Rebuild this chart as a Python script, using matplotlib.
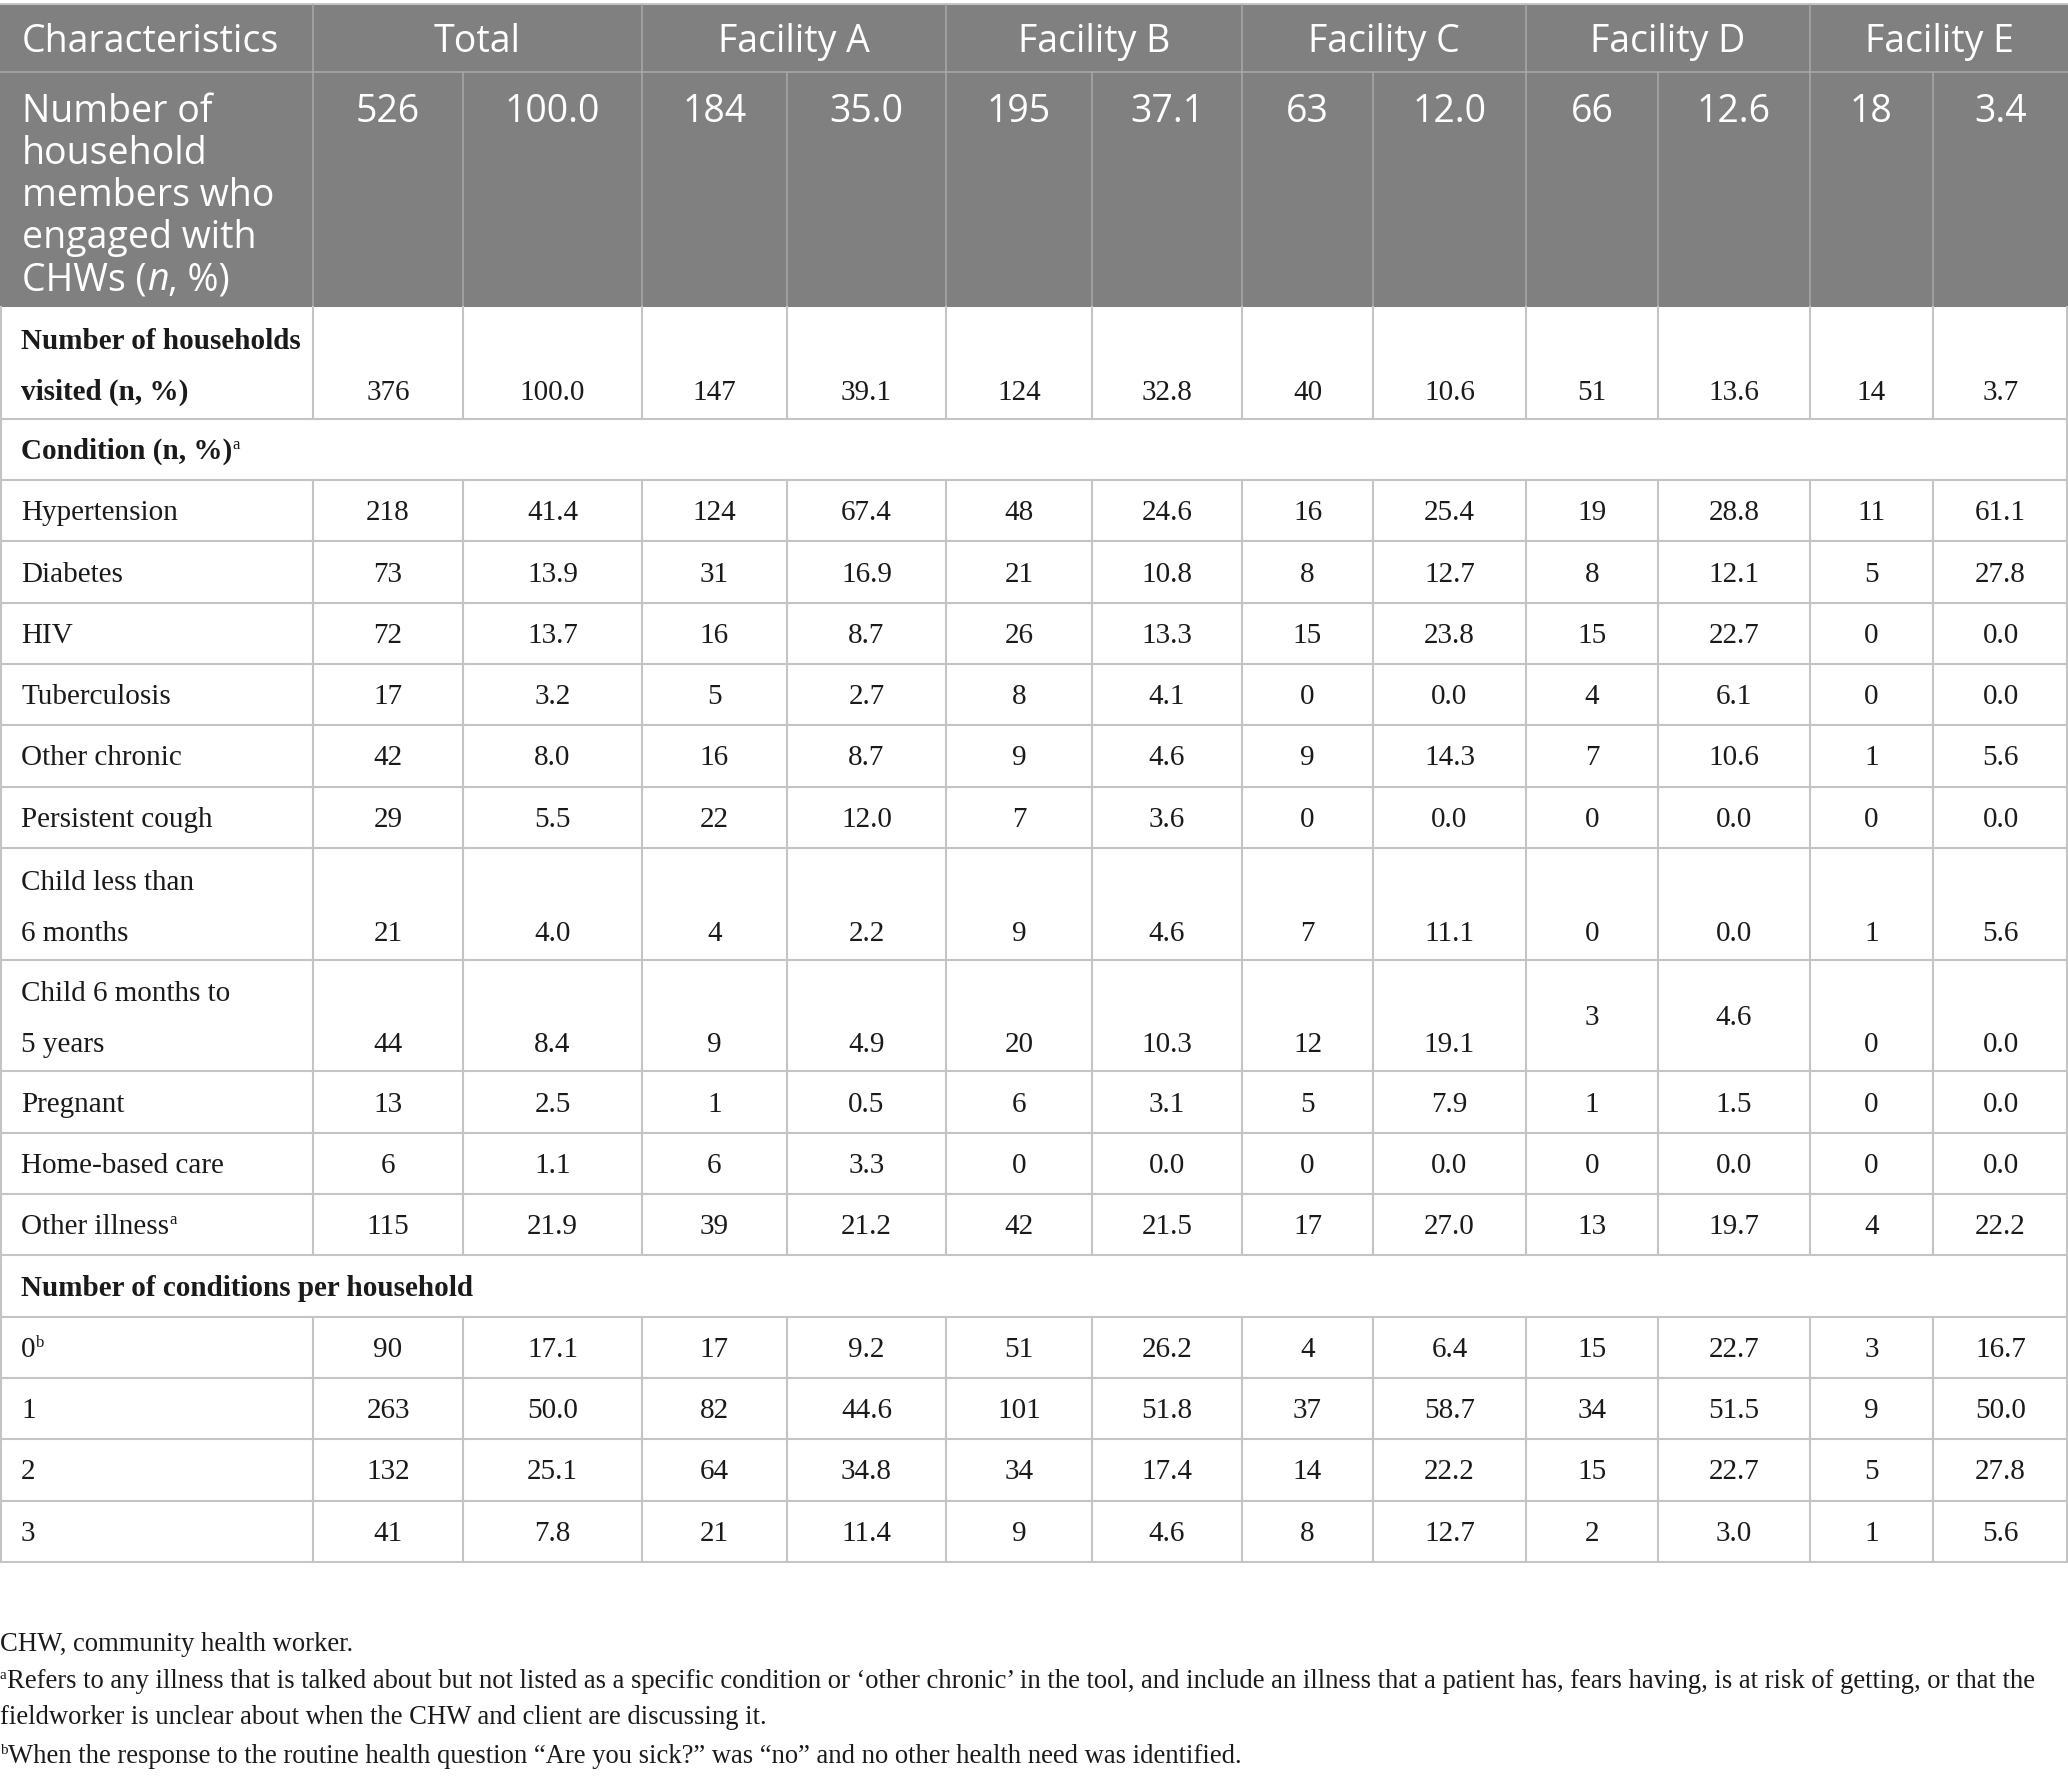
import matplotlib.pyplot as plt
from matplotlib.patches import Rectangle

# table values
facilities = ['Total', 'Facility A', 'Facility B', 'Facility C', 'Facility D', 'Facility E']
engaged_n = [526, 184, 195, 63, 66, 18]
engaged_pct = [100.0, 35.0, 37.1, 12.0, 12.6, 3.4]
visited_n = [376, 147, 124, 40, 51, 14]
visited_pct = [100.0, 39.1, 32.8, 10.6, 13.6, 3.7]

conditions = ['Hypertension', 'Diabetes', 'HIV', 'Tuberculosis', 'Other chronic',
              'Persistent cough', 'Child less than\n6 months', 'Child 6 months to\n5 years',
              'Pregnant', 'Home-based care', 'Other illness']
condition_n = [
    [218, 124, 48, 16, 19, 11],
    [73, 31, 21, 8, 8, 5],
    [72, 16, 26, 15, 15, 0],
    [17, 5, 8, 0, 4, 0],
    [42, 16, 9, 9, 7, 1],
    [29, 22, 7, 0, 0, 0],
    [21, 4, 9, 7, 0, 1],
    [44, 9, 20, 12, 3, 0],
    [13, 1, 6, 5, 1, 0],
    [6, 6, 0, 0, 0, 0],
    [115, 39, 42, 17, 13, 4],
]
condition_pct = [
    [41.4, 67.4, 24.6, 25.4, 28.8, 61.1],
    [13.9, 16.9, 10.8, 12.7, 12.1, 27.8],
    [13.7, 8.7, 13.3, 23.8, 22.7, 0.0],
    [3.2, 2.7, 4.1, 0.0, 6.1, 0.0],
    [8.0, 8.7, 4.6, 14.3, 10.6, 5.6],
    [5.5, 12.0, 3.6, 0.0, 0.0, 0.0],
    [4.0, 2.2, 4.6, 11.1, 0.0, 5.6],
    [8.4, 4.9, 10.3, 19.1, 4.6, 0.0],
    [2.5, 0.5, 3.1, 7.9, 1.5, 0.0],
    [1.1, 3.3, 0.0, 0.0, 0.0, 0.0],
    [21.9, 21.2, 21.5, 27.0, 19.7, 22.2],
]
n_conditions = ['0', '1', '2', '3']
per_household_n = [
    [90, 17, 51, 4, 15, 3],
    [263, 82, 101, 37, 34, 9],
    [132, 64, 34, 14, 15, 5],
    [41, 21, 9, 8, 2, 1],
]
per_household_pct = [
    [17.1, 9.2, 26.2, 6.4, 22.7, 16.7],
    [50.0, 44.6, 51.8, 58.7, 51.5, 50.0],
    [25.1, 34.8, 17.4, 22.2, 22.7, 27.8],
    [7.8, 11.4, 4.6, 12.7, 3.0, 5.6],
]

W, H = 2068, 1777
fig = plt.figure(figsize=(W / 100, H / 100), dpi=100)
ax = fig.add_axes([0, 0, 1, 1])
ax.set_xlim(0, W)
ax.set_ylim(H, 0)
ax.axis('off')
renderer = fig.canvas.get_renderer()

HEAD = dict(family='Open Sans', fontsize=27, weight='medium', color='white')
HEAD_IT = dict(HEAD, style='italic')
BODY = dict(family='Liberation Serif', fontsize=21, color='#1a1a1a')
BOLD = dict(BODY, weight='bold')
SUP = dict(family='Liberation Serif', fontsize=12, color='#1a1a1a')
NOTE = dict(family='Liberation Serif', fontsize=19.5, color='#1a1a1a')
NOTE_SUP = dict(family='Liberation Serif', fontsize=11, color='#1a1a1a')

GRID = '#c4c4c4'
HEAD_GRID = '#a6a6a6'
HEAD_BG = '#808080'

col_x = [0, 313, 463, 642, 787, 946, 1092, 1242, 1373, 1526, 1658, 1810, 1933, 2068]
group_x = [0, 313, 642, 946, 1242, 1526, 1810, 2068]


def runs(x, y, parts, ha='left'):
    # parts: (text, style, rise) drawn one after another on a shared baseline
    items = []
    total = 0
    for txt, kw, rise in parts:
        t = ax.text(0, y - rise, txt, va='baseline', ha='left', **kw)
        w = t.get_window_extent(renderer).width
        items.append((t, w))
        total += w
    cx = x - total / 2 if ha == 'center' else x
    for t, w in items:
        t.set_x(cx)
        cx += w
    return items


cx = [(col_x[i] + col_x[i + 1]) / 2 for i in range(len(col_x) - 1)]

# ---- header ----
ax.add_patch(Rectangle((0, 5), W, 302, color=HEAD_BG, lw=0))
ax.plot([0, W], [4, 4], color=GRID, lw=1.4)
ax.plot([0, W], [72, 72], color=HEAD_GRID, lw=1.2)
for x in group_x[1:-1]:
    ax.plot([x, x], [5, 72], color=HEAD_GRID, lw=1.2)
for x in col_x[1:-1]:
    ax.plot([x, x], [72, 307], color=HEAD_GRID, lw=1.2)

ax.text(22, 52, 'Characteristics', va='baseline', ha='left', **HEAD)
for i, name in enumerate(facilities):
    ax.text((group_x[i + 1] + group_x[i + 2]) / 2, 52, name, va='baseline', ha='center', **HEAD)

head_lines = ['Number of', 'household', 'members who', 'engaged with']
for k, line in enumerate(head_lines):
    ax.text(22, 122 + 42 * k, line, va='baseline', ha='left', **HEAD)
runs(22, 122 + 42 * 4, [('CHWs (', HEAD, 0), ('n', HEAD_IT, 0), (', %)', HEAD, 0)])

for i in range(len(facilities)):
    ax.text(cx[1 + 2 * i], 122, str(engaged_n[i]), va='baseline', ha='center', **HEAD)
    ax.text(cx[2 + 2 * i], 122, f'{engaged_pct[i]:.1f}', va='baseline', ha='center', **HEAD)

# ---- body rows ----
SINGLE, DOUBLE = 61.3, 111.8
rows = []
rows.append(('double', ['Number of households', 'visited (n, %)'], visited_n, visited_pct, True))
rows.append(('section', 'Condition (n, %)', 'a'))
for lab, ns, ps in zip(conditions, condition_n, condition_pct):
    kind = 'double' if '\n' in lab else 'single'
    rows.append((kind, lab.split('\n'), ns, ps, False))
rows.append(('section', 'Number of conditions per household', None))
for lab, ns, ps in zip(n_conditions, per_household_n, per_household_pct):
    rows.append(('single', [lab], ns, ps, False))

y0 = 307
for r in rows:
    kind = r[0]
    h = DOUBLE if kind == 'double' else SINGLE
    y1 = y0 + h
    ax.plot([0, W], [y1, y1], color=GRID, lw=1.5)
    ax.plot([1, 1], [y0, y1], color=GRID, lw=1.5)
    ax.plot([W - 1, W - 1], [y0, y1], color=GRID, lw=1.5)
    if kind == 'section':
        base = (y0 + y1) / 2 + 9.5
        parts = [(r[1], BOLD, 0)]
        if r[2]:
            parts.append((r[2], SUP, 10))
        runs(21, base, parts)
    else:
        for x in col_x[1:-1]:
            ax.plot([x, x], [y0, y1], color=GRID, lw=1.5)
        labels, ns, ps, bold = r[1], r[2], r[3], r[4]
        style = BOLD if bold else BODY
        if kind == 'double':
            base = y1 - 19
            ax.text(21, base - 51, labels[0], va='baseline', ha='left', **style)
            ax.text(21, base, labels[1], va='baseline', ha='left', **style)
        else:
            base = (y0 + y1) / 2 + 9.5
            lab = labels[0]
            if lab == 'Other illness':
                runs(21, base, [(lab, style, 0), ('a', SUP, 10)])
            elif lab == '0':
                runs(21, base, [(lab, style, 0), ('b', SUP, 10)])
            else:
                ax.text(21, base, lab, va='baseline', ha='left', **style)
        for i in range(len(facilities)):
            b = base
            # Facility D child 6 months row is centred in the original
            if kind == 'double' and labels[0].startswith('Child 6') and i == 4:
                b = (y0 + y1) / 2 + 9.5
            ax.text(cx[1 + 2 * i], b, str(ns[i]), va='baseline', ha='center', **BODY)
            ax.text(cx[2 + 2 * i], b, f'{ps[i]:.1f}', va='baseline', ha='center', **BODY)
    y0 = y1

# ---- footnotes ----
long_note = ('Refers to any illness that is talked about but not listed as a specific condition or '
             '\u2018other chronic\u2019 in the tool, and include an illness that a patient has, fears having, '
             'is at risk of getting, or that the')
# fit the long footnote line to the table width
probe = ax.text(0, 0, long_note, **NOTE)
scale = 2036 / probe.get_window_extent(renderer).width
probe.remove()
NOTE['fontsize'] = NOTE['fontsize'] * scale

ax.text(0, 1651, 'CHW, community health worker.', va='baseline', ha='left', **NOTE)
runs(0, 1688, [('a', NOTE_SUP, 9), (long_note, NOTE, 0)])
ax.text(0, 1724, 'fieldworker is unclear about when the CHW and client are discussing it.',
        va='baseline', ha='left', **NOTE)
runs(0, 1763, [('b', NOTE_SUP, 9),
               ('When the response to the routine health question \u201cAre you sick?\u201d was \u201cno\u201d '
                'and no other health need was identified.', NOTE, 0)])

fig.savefig('out.png', dpi=100, facecolor='white')
